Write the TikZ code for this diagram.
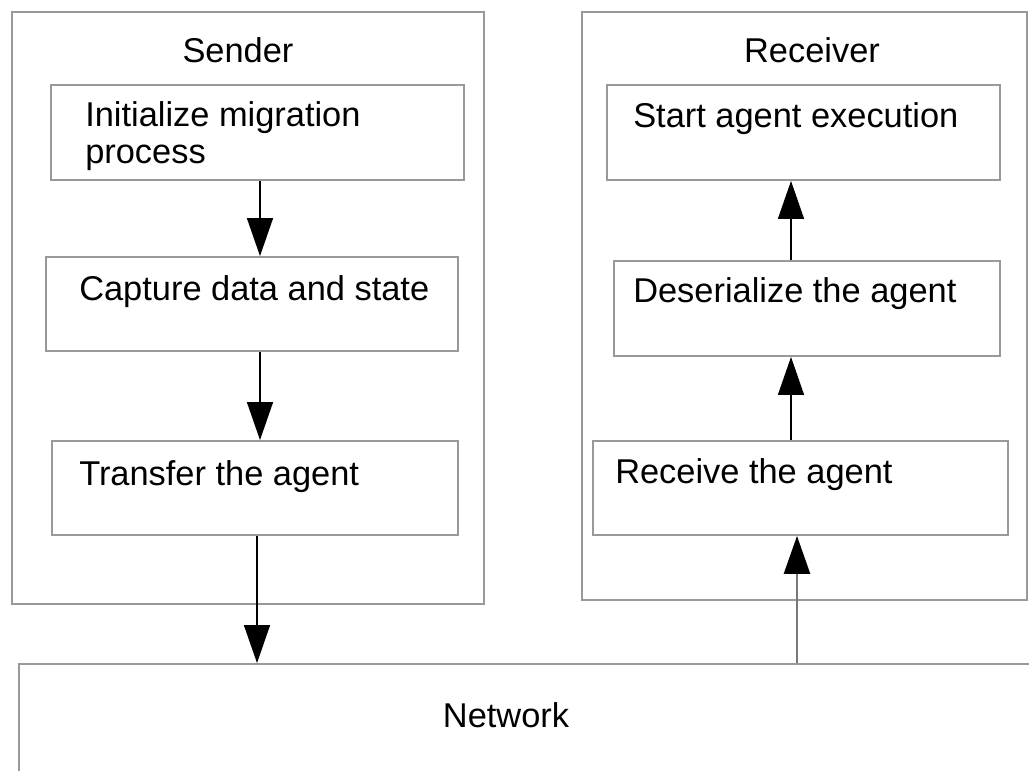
\documentclass[tikz,border=0pt]{standalone}
\usepackage{fontspec}
\setmainfont{Liberation Sans}
\usetikzlibrary{arrows.meta,fit}
\definecolor{boxgray}{RGB}{153,153,153}
\definecolor{linkgray}{RGB}{120,120,120}
\tikzset{
  box/.style={draw=boxgray, line width=1.4pt, inner sep=0pt},
  txt/.style={anchor=base west, inner sep=0pt, align=left, font=\fontsize{25.8pt}{27.75pt}\selectfont},
  flow/.style={-{Triangle[length=28.5pt,width=19.5pt]}, line width=1.1pt},
}

\begin{document}
\begin{tikzpicture}[x=0.75pt,y=-0.75pt]
	\useasboundingbox (0,0) rectangle (1029,771);
	\clip (0,0) rectangle (1029,771);
%	containers
	\node [box, fit={(12,12) (484,604)}] (sender) {};
	\node [box, fit={(582,12) (1027,600)}] (receiver) {};
	\node [box, fit={(19,664) (1060,800)}] (network) {};
%	sender side
	\node [box, fit={(51,85) (464,180)}] (init) {};
	\node [box, fit={(46,257) (458,351)}] (capture) {};
	\node [box, fit={(52,441) (458,535)}] (transfer) {};
%	receiver side
	\node [box, fit={(607,85) (1000,180)}] (start) {};
	\node [box, fit={(614,261) (1000,356)}] (deser) {};
	\node [box, fit={(593,441) (1008,535)}] (receive) {};
%	texts (base of a two-line text is its last line)
	\node [txt, anchor=base] (sender-t) at (238,62) {Sender};
	\node [txt, anchor=base] (receiver-t) at (812,62) {Receiver};
	\node [txt] (init-t) at (85,163) {Initialize migration\\process};
	\node [txt] (capture-t) at (79,300) {Capture data and state};
	\node [txt] (transfer-t) at (79,485) {Transfer the agent};
	\node [txt] (start-t) at (633,127) {Start agent execution};
	\node [txt] (deser-t) at (633,302) {Deserialize the agent};
	\node [txt] (receive-t) at (615,483) {Receive the agent};
	\node [txt, anchor=base] (network-t) at (506,727) {Network};
%	arrows
	\coordinate (xa) at (260,0);
	\coordinate (xb) at (257,0);
	\coordinate (xc) at (791,0);
	\coordinate (xd) at (797,0);
	\draw [flow] (init.south -| xa) -- (capture.north -| xa);
	\draw [flow] (capture.south -| xa) -- (transfer.north -| xa);
	\draw [flow] (transfer.south -| xb) -- (network.north -| xb);
	\draw [flow, draw=linkgray, line width=1.9pt, -{Triangle[length=28.5pt,width=19.5pt,black]}] (network.north -| xd) -- (receive.south -| xd);
	\draw [flow] (receive.north -| xc) -- (deser.south -| xc);
	\draw [flow] (deser.north -| xc) -- (start.south -| xc);
\end{tikzpicture}
\end{document}
